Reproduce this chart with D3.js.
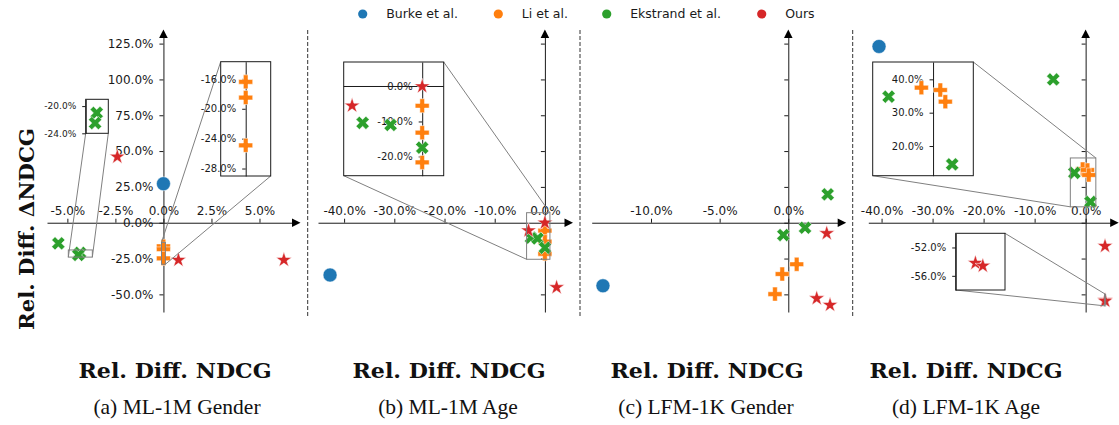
<!DOCTYPE html>
<html>
<head>
<meta charset="utf-8">
<script src="https://cdn.jsdelivr.net/npm/d3@7"></script>
<style>
  body { margin: 0; background: #fff; }
  svg { display: block; }
</style>
</head>
<body>
<svg id="chart" width="1119" height="425"></svg>
<script>
// ---- Methods -------------------------------------------------------------
const methodNames  = ["Burke et al.", "Li et al.", "Ekstrand et al.", "Ours"];
const methodColors = ["#1f77b4", "#ff7f0e", "#2ca02c", "#d62728"];
const methodShapes = ["circle", "plus", "x", "star"];

// ---- Data: [Rel. Diff. NDCG (%), Rel. Diff. ΔNDCG (%)] --------------------
// (a) ML-1M Gender
const ml1mGenderBurke    = [[0.0, 27.2]];
const ml1mGenderLi       = [[0.0, -16.4], [0.0, -18.5], [0.0, -24.9]];
const ml1mGenderEkstrand = [[-5.47, -14.4], [-4.34, -21.0], [-4.43, -22.5]];
const ml1mGenderOurs     = [[-2.4, 46.0], [0.78, -26.0], [6.27, -26.0]];

// (b) ML-1M Age
const ml1mAgeBurke    = [[-42.8, -36.5]];
const ml1mAgeLi       = [[0.0, -5.5], [0.0, -13.2], [0.0, -21.7]];
const ml1mAgeEkstrand = [[-2.77, -10.4], [-1.47, -11.0], [0.0, -17.5]];
const ml1mAgeOurs     = [[0.0, 0.0], [-3.26, -5.5], [2.33, -45.1]];

// (c) LFM-1K Gender
const lfmGenderBurke    = [[-13.5, -44.0]];
const lfmGenderLi       = [[0.61, -29.0], [-0.44, -35.8], [-0.97, -49.8]];
const lfmGenderEkstrand = [[2.87, 19.8], [1.22, -3.5], [-0.36, -8.6]];
const lfmGenderOurs     = [[2.8, -7.4], [2.07, -52.8], [3.04, -57.4]];

// (d) LFM-1K Age
const lfmAgeBurke    = [[-40.5, 123.0]];
const lfmAgeLi       = [[-0.58, 37.5], [0.36, 36.8], [0.61, 33.3]];
const lfmAgeEkstrand = [[-6.35, 100.0], [-2.21, 34.8], [0.95, 14.5]];
const lfmAgeOurs     = [[3.8, -16.3], [3.8, -54.2], [3.83, -54.6]];

// ---- Ticks and texts ------------------------------------------------------
const yTickValues      = [-50, -25, 0, 25, 50, 75, 100, 125];
const ml1mGenderXTicks = [-5, -2.5, 0, 2.5, 5];
const ml1mAgeXTicks    = [-40, -30, -20, -10, 0];
const lfmGenderXTicks  = [-10, -5, 0];
const lfmAgeXTicks     = [-40, -30, -20, -10, 0];

const ml1mGenderInsetLeftTicks  = [-20, -24];
const ml1mGenderInsetRightTicks = [-16, -20, -24, -28];
const ml1mAgeInsetTicks         = [0, -10, -20];
const lfmAgeInsetUpperTicks     = [40, 30, 20];
const lfmAgeInsetLowerTicks     = [-52, -56];

const panelCaptions = ["(a) ML-1M Gender", "(b) ML-1M Age", "(c) LFM-1K Gender", "(d) LFM-1K Age"];
const xAxisTitle = "Rel. Diff. NDCG";
const yAxisTitle = "Rel. Diff. \u0394NDCG";

// ---- Layout ---------------------------------------------------------------
const SANS = "DejaVu Sans";
const yMain = d3.scaleLinear().domain([-62.3, 131.7]).range([312, 34]);
const pct = v => v.toFixed(1) + "%";

const panels = [
  {
    series: [ml1mGenderBurke, ml1mGenderLi, ml1mGenderEkstrand, ml1mGenderOurs],
    xTicks: ml1mGenderXTicks, xDomain: [-6.06, 6.9], xRange: [47, 296],
    yLabels: true, center: 175, captionCenter: 177,
    insets: [
      { box: [85.7, 99.3, 108.3, 133.3], xDomain: [-4.95, -3.7], yDomain: [-24, -19],
        ticks: ml1mGenderInsetLeftTicks, fontSize: 9, links: [["ll", "ll"], ["lr", "lr"]] },
      { box: [220.7, 61.7, 270.7, 176], xDomain: [-0.1, 0.1], yDomain: [-29, -13.7],
        ticks: ml1mGenderInsetRightTicks, fontSize: 10, links: [["ul", "ul"], ["lr", "lr"]] }
    ]
  },
  {
    series: [ml1mAgeBurke, ml1mAgeLi, ml1mAgeEkstrand, ml1mAgeOurs],
    xTicks: ml1mAgeXTicks, xDomain: [-45.2, 4.7], xRange: [318, 568.5],
    yLabels: false, center: 449, captionCenter: 448,
    insets: [
      { box: [343.7, 62, 443.7, 175.7], xDomain: [-3.65, 1.0], yDomain: [-25.5, 7],
        ticks: ml1mAgeInsetTicks, fontSize: 10, links: [["ur", "ur"], ["ll", "ll"]] }
    ]
  },
  {
    series: [lfmGenderBurke, lfmGenderLi, lfmGenderEkstrand, lfmGenderOurs],
    xTicks: lfmGenderXTicks, xDomain: [-14.32, 3.89], xRange: [591.7, 841.7],
    yLabels: false, center: 707, captionCenter: 706,
    insets: []
  },
  {
    series: [lfmAgeBurke, lfmAgeLi, lfmAgeEkstrand, lfmAgeOurs],
    xTicks: lfmAgeXTicks, xDomain: [-42.6, 5.6], xRange: [868.3, 1114.2],
    yLabels: false, center: 966, captionCenter: 966,
    insets: [
      { box: [872.7, 62, 973.3, 175.7], xDomain: [-3, 2], yDomain: [11.1, 45.2],
        ticks: lfmAgeInsetUpperTicks, fontSize: 10, links: [["ur", "ur"], ["ll", "ll"]] },
      { box: [955.7, 233.3, 1005, 290], xDomain: [3.72, 3.92], yDomain: [-58, -50],
        ticks: lfmAgeInsetLowerTicks, fontSize: 10, links: [["ur", "ur"], ["ll", "ll"]] }
    ]
  }
];

const separators = [307.7, 580, 852.7];

// ---- Marker symbols -------------------------------------------------------
const R = 7;     // circle / cross half-extent in px
const RS = 8.2;  // star outer radius in px
const symbolGens = {
  circle: d3.symbol(d3.symbolCircle, Math.PI * R * R),
  plus:   d3.symbol(d3.symbolCross, 5 * Math.pow(2 * R / 3, 2)),
  x:      d3.symbol(d3.symbolCross, 5 * Math.pow(2 * R / 3, 2)),
  star:   d3.symbol(d3.symbolStar, RS * RS / 0.8908130915292852)
};

const svg = d3.select("#chart");
svg.append("rect").attr("width", 1119).attr("height", 425).attr("fill", "#fff");

function drawMarkers(g, seriesList, xs, ys) {
  seriesList.forEach((pts, i) => {
    const shape = methodShapes[i];
    g.append("g").selectAll("path").data(pts).join("path")
      .attr("d", symbolGens[shape]())
      .attr("transform", d => `translate(${xs(d[0])},${ys(d[1])})` + (shape === "x" ? " rotate(45)" : ""))
      .attr("fill", methodColors[i])
      .attr("stroke", "#fff")
      .attr("stroke-width", 0.5);
  });
}

function styleAxis(g, size) {
  g.attr("font-family", SANS).attr("font-size", size);
  g.selectAll("text").attr("fill", "#1a1a1a");
  g.selectAll("line").attr("stroke", "#1a1a1a");
  g.select(".domain").attr("stroke", "#1a1a1a");
}

let clipId = 0;

function drawInset(layer, inset, seriesList, xMain) {
  const [x0, y0, x1, y1] = inset.box;
  const xi = d3.scaleLinear().domain(inset.xDomain).range([x0, x1]);
  const yi = d3.scaleLinear().domain(inset.yDomain).range([y1, y0]);

  // region indicator in the parent axes
  const rx0 = xMain(inset.xDomain[0]), rx1 = xMain(inset.xDomain[1]);
  const ry0 = yMain(inset.yDomain[1]), ry1 = yMain(inset.yDomain[0]);
  layer.append("rect")
    .attr("x", rx0).attr("y", ry0).attr("width", rx1 - rx0).attr("height", ry1 - ry0)
    .attr("fill", "none").attr("stroke", "#808080").attr("stroke-width", 1);

  const insetCorner = { ul: [x0, y0], ur: [x1, y0], ll: [x0, y1], lr: [x1, y1] };
  const rectCorner  = { ul: [rx0, ry0], ur: [rx1, ry0], ll: [rx0, ry1], lr: [rx1, ry1] };
  inset.links.forEach(([a, b]) => {
    layer.append("line")
      .attr("x1", insetCorner[a][0]).attr("y1", insetCorner[a][1])
      .attr("x2", rectCorner[b][0]).attr("y2", rectCorner[b][1])
      .attr("stroke", "#808080").attr("stroke-width", 1);
  });

  const g = layer.append("g");
  g.append("rect").attr("x", x0).attr("y", y0).attr("width", x1 - x0).attr("height", y1 - y0)
    .attr("fill", "#fff");

  // spines through zero when zero is inside the view, else on the left edge
  const hasX0 = inset.xDomain[0] < 0 && inset.xDomain[1] > 0;
  const hasY0 = inset.yDomain[0] < 0 && inset.yDomain[1] > 0;
  if (hasY0) {
    g.append("line").attr("x1", x0).attr("x2", x1).attr("y1", yi(0)).attr("y2", yi(0))
      .attr("stroke", "#1a1a1a").attr("stroke-width", 1);
  }
  const yAx = d3.axisLeft(yi).tickValues(inset.ticks).tickFormat(pct)
    .tickSize(3.5).tickSizeOuter(0).tickPadding(6);
  const ya = g.append("g").attr("transform", `translate(${hasX0 ? xi(0) : x0},0)`).call(yAx);
  styleAxis(ya, inset.fontSize);

  const id = "clip" + (clipId++);
  g.append("clipPath").attr("id", id).append("rect")
    .attr("x", x0).attr("y", y0).attr("width", x1 - x0).attr("height", y1 - y0);
  drawMarkers(g.append("g").attr("clip-path", `url(#${id})`), seriesList, xi, yi);

  g.append("rect").attr("x", x0).attr("y", y0).attr("width", x1 - x0).attr("height", y1 - y0)
    .attr("fill", "none").attr("stroke", "#1a1a1a").attr("stroke-width", 1);
}

panels.forEach(p => {
  const x = d3.scaleLinear().domain(p.xDomain).range(p.xRange);
  const g = svg.append("g");

  // x spine at y = 0 with ticks above
  const xAx = d3.axisTop(x).tickValues(p.xTicks).tickFormat(pct)
    .tickSize(4).tickSizeOuter(0).tickPadding(3.5);
  const xa = g.append("g").attr("transform", `translate(0,${yMain(0)})`).call(xAx);
  styleAxis(xa, 12);

  // y spine at x = 0
  const yAx = d3.axisLeft(yMain).tickValues(yTickValues)
    .tickFormat(p.yLabels ? pct : () => "")
    .tickSize(4).tickSizeOuter(0).tickPadding(6);
  const ya = g.append("g").attr("transform", `translate(${x(0)},0)`).call(yAx);
  styleAxis(ya, 12);

  // arrow heads
  const xe = p.xRange[1], yz = yMain(0);
  g.append("path")
    .attr("d", `M${xe + 4.5},${yz}L${xe - 4},${yz - 4.3}L${xe - 4},${yz + 4.3}Z`)
    .attr("fill", "#000");
  const x0 = x(0), ye = yMain.range()[1];
  g.append("path")
    .attr("d", `M${x0},${ye - 4.5}L${x0 - 4.3},${ye + 4}L${x0 + 4.3},${ye + 4}Z`)
    .attr("fill", "#000");

  drawMarkers(g.append("g"), p.series, x, yMain);

  const insetLayer = g.append("g");
  p.insets.forEach(ins => drawInset(insetLayer, ins, p.series, x));

  // axis title
  svg.append("text").attr("x", p.center).attr("y", 378)
    .attr("text-anchor", "middle").attr("font-family", "DejaVu Serif")
    .attr("font-weight", "bold").attr("font-size", 20)
    .attr("textLength", 193).attr("lengthAdjust", "spacingAndGlyphs")
    .attr("fill", "#111").text(xAxisTitle);
});

panelCaptions.forEach((c, i) => {
  svg.append("text").attr("x", panels[i].captionCenter).attr("y", 414)
    .attr("text-anchor", "middle").attr("font-family", "Liberation Serif")
    .attr("font-size", 21.5).attr("fill", "#111").text(c);
});

// shared y title
svg.append("text")
  .attr("transform", "translate(33.5,229) rotate(-90)")
  .attr("text-anchor", "middle").attr("font-family", "DejaVu Serif")
  .attr("font-weight", "bold").attr("font-size", 20)
  .attr("textLength", 202).attr("lengthAdjust", "spacingAndGlyphs")
  .attr("fill", "#111")
  .text(yAxisTitle);

// panel separators
svg.append("g").selectAll("line").data(separators).join("line")
  .attr("x1", d => d).attr("x2", d => d).attr("y1", 30).attr("y2", 316)
  .attr("stroke", "#333").attr("stroke-width", 1).attr("stroke-dasharray", "4,2");

// legend
const legendX = [362.7, 498.3, 606.7, 761.7];
const legend = svg.append("g").selectAll("g").data(methodNames).join("g")
  .attr("transform", (d, i) => `translate(${legendX[i]},14)`);
legend.append("circle").attr("r", 4.6).attr("fill", (d, i) => methodColors[i]);
legend.append("text").attr("x", 23.5).attr("y", 4.3)
  .attr("font-family", SANS).attr("font-size", 12.5).attr("fill", "#1a1a1a")
  .text(d => d);
</script>
</body>
</html>
